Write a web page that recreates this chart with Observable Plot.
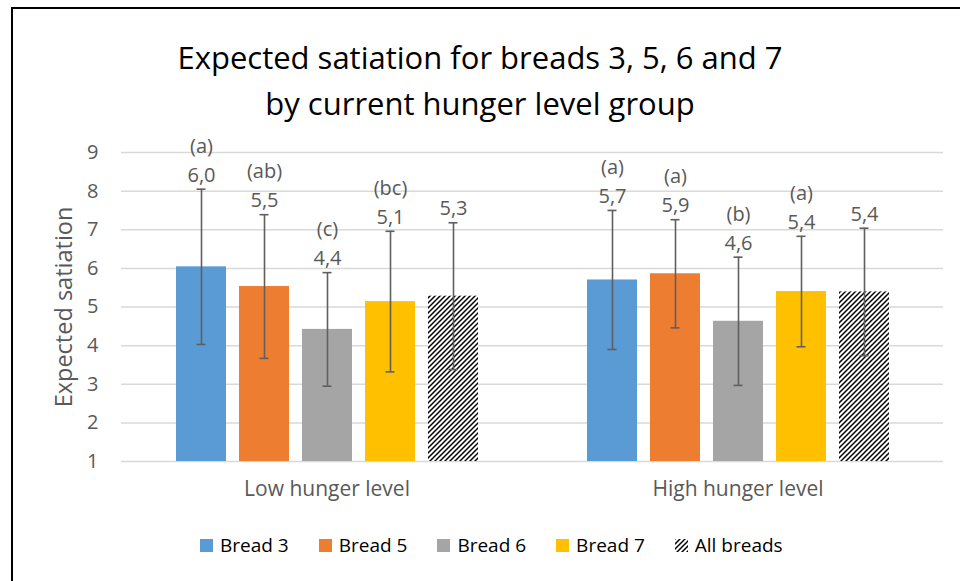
<!DOCTYPE html>
<html>
<head>
<meta charset="utf-8">
<script src="https://cdn.jsdelivr.net/npm/d3@7"></script>
<script src="https://cdn.jsdelivr.net/npm/@observablehq/plot@0.6"></script>
<style>
html,body{margin:0;padding:0;background:#fff;}
#wrap{position:relative;width:960px;height:581px;overflow:hidden;font-family:"Open Sans",sans-serif;background:#fff;}
#frame{position:absolute;left:11px;top:7px;width:980px;height:620px;border-top:2px solid #000;border-left:2px solid #000;box-sizing:border-box;}
#title{position:absolute;left:0;top:34px;width:960px;text-align:center;font-size:31px;line-height:46px;color:#000;}
#chart{position:absolute;left:0;top:125px;}
#legend{position:absolute;top:533px;left:200px;height:24px;display:flex;gap:30px;}
.item{display:flex;align-items:center;font-size:19px;color:#000;line-height:24px;white-space:nowrap;}
.sw{width:13px;height:13px;margin-right:7px;display:block;}
</style>
</head>
<body>
<svg width="0" height="0" style="position:absolute">
  <defs>
    <pattern id="hatch" patternUnits="userSpaceOnUse" width="5" height="5">
      <rect width="5" height="5" fill="#fff"></rect>
      <path d="M-1,1 l2,-2 M0,5 l5,-5 M4,6 l2,-2" stroke="#000" stroke-width="1.5"></path>
    </pattern>
  </defs>
</svg>
<div id="wrap">
  <div id="frame"></div>
  <div id="title">Expected satiation for breads 3, 5, 6 and 7<br>by current hunger level group</div>
  <div id="chart"></div>
  <div id="legend"></div>
</div>
<script>
const groups = ["Low hunger level", "High hunger level"];
const breads = ["Bread 3", "Bread 5", "Bread 6", "Bread 7", "All breads"];
const colors = ["#5b9bd5", "#ed7d31", "#a5a5a5", "#ffc000", "url(#hatch)"];
const lowMeans = [6.04, 5.53, 4.42, 5.14, 5.28];
const lowSD = [2.01, 1.86, 1.47, 1.82, 1.90];
const highMeans = [5.70, 5.86, 4.63, 5.40, 5.39];
const highSD = [1.80, 1.40, 1.66, 1.43, 1.65];
const lowLetters = ["(a)", "(ab)", "(c)", "(bc)", ""];
const highLetters = ["(a)", "(a)", "(b)", "(a)", ""];
const yTicks = [1, 2, 3, 4, 5, 6, 7, 8, 9];
const yTitle = "Expected satiation";

const rows = [];
breads.forEach((b, i) => {
  rows.push({group: groups[0], bread: b, mean: lowMeans[i], sd: lowSD[i], letter: lowLetters[i]});
});
breads.forEach((b, i) => {
  rows.push({group: groups[1], bread: b, mean: highMeans[i], sd: highSD[i], letter: highLetters[i]});
});
const fmt = v => v.toFixed(1).replace(".", ",");
const errColor = "#5f5f5f";

const chart = Plot.plot({
  width: 960,
  height: 390,
  marginLeft: 120,
  marginRight: 17,
  marginTop: 27,
  marginBottom: 54,
  style: {fontFamily: '"Open Sans", sans-serif', background: "transparent", overflow: "visible"},
  fx: {domain: groups, padding: 0, label: null},
  x: {domain: breads, paddingInner: 0.21, paddingOuter: 0.857, axis: null},
  y: {domain: [1, 9], label: null},
  color: {domain: breads, range: colors},
  marks: [
    Plot.gridY(yTicks, {stroke: "#d9d9d9", strokeOpacity: 1, strokeWidth: 1.5}),
    Plot.axisY(yTicks, {tickSize: 0, tickPadding: 23, fontSize: 20, color: "#595959", label: null}),
    Plot.axisFx({anchor: "bottom", tickSize: 0, tickPadding: 20, fontSize: 21, color: "#595959", label: null}),
    Plot.barY(rows, {fx: "group", x: "bread", y1: 1, y2: "mean", fill: "bread"}),
    Plot.ruleX(rows, {fx: "group", x: "bread", y1: d => d.mean - d.sd, y2: d => d.mean + d.sd, stroke: errColor, strokeWidth: 1.6}),
    Plot.tickY(rows, {fx: "group", x: "bread", y: d => d.mean - d.sd, insetLeft: 20.5, insetRight: 20.5, stroke: errColor, strokeWidth: 1.6}),
    Plot.tickY(rows, {fx: "group", x: "bread", y: d => d.mean + d.sd, insetLeft: 20.5, insetRight: 20.5, stroke: errColor, strokeWidth: 1.6}),
    Plot.text(rows, {fx: "group", x: "bread", y: d => d.mean + d.sd, text: d => fmt(d.mean), dy: -14, fontSize: 20, fill: "#595959"}),
    Plot.text(rows, {fx: "group", x: "bread", y: d => d.mean + d.sd, text: "letter", dy: -43, fontSize: 20, fill: "#595959"}),
    Plot.text([yTitle], {fx: () => groups[0], text: d => d, frameAnchor: "left", textAnchor: "middle", rotate: -90, dx: -57, fontSize: 23.5, fill: "#595959"})
  ]
});
document.getElementById("chart").appendChild(chart);

const legend = document.getElementById("legend");
breads.forEach((b, i) => {
  const item = document.createElement("div");
  item.className = "item";
  item.innerHTML = `<svg class="sw" width="13" height="13"><rect width="13" height="13" fill="${colors[i]}"></rect></svg><span>${b}</span>`;
  legend.appendChild(item);
});
</script>
</body>
</html>
